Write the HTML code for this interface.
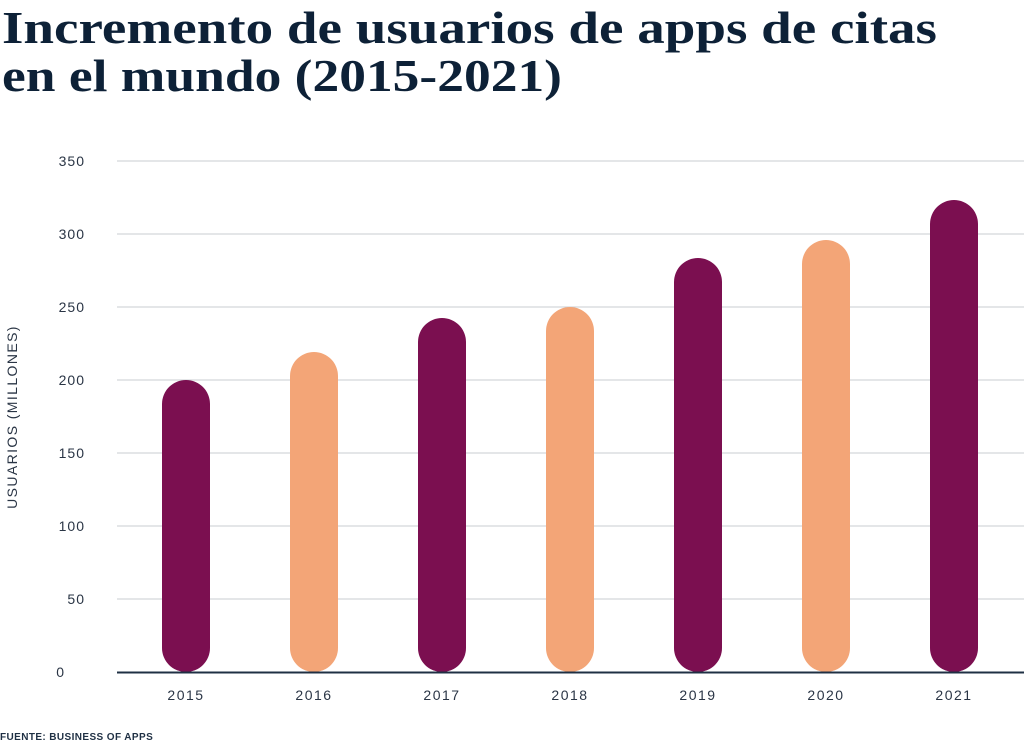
<!DOCTYPE html>
<html><head><meta charset="utf-8"><style>html,body{margin:0;padding:0;background:#fff;}</style></head>
<body>
<svg width="1024" height="744" viewBox="0 0 1024 744" xmlns="http://www.w3.org/2000/svg">
<g font-family="Liberation Serif, serif" font-weight="bold" fill="#0d2137" font-size="46">
<text x="2" y="43" textLength="935" lengthAdjust="spacingAndGlyphs">Incremento de usuarios de apps de citas</text>
<text x="2" y="91" textLength="560" lengthAdjust="spacingAndGlyphs">en el mundo (2015-2021)</text>
</g>
<g stroke="#c8ccd2" stroke-width="1">
<line x1="117" x2="1024" y1="161" y2="161"/>
<line x1="117" x2="1024" y1="234" y2="234"/>
<line x1="117" x2="1024" y1="307" y2="307"/>
<line x1="117" x2="1024" y1="380" y2="380"/>
<line x1="117" x2="1024" y1="453" y2="453"/>
<line x1="117" x2="1024" y1="526" y2="526"/>
<line x1="117" x2="1024" y1="599" y2="599"/>
</g>
<g font-family="Liberation Sans, sans-serif" font-size="14" fill="#2a3545" text-anchor="end" letter-spacing="1">
<text x="85" y="166">350</text><text x="85" y="239">300</text><text x="85" y="312">250</text>
<text x="85" y="385">200</text><text x="85" y="458">150</text><text x="85" y="531">100</text>
<text x="85" y="604">50</text><text x="65" y="677">0</text>
</g>
<text transform="translate(17,417) rotate(-90)" text-anchor="middle" font-family="Liberation Sans, sans-serif" font-size="14" letter-spacing="1.4" fill="#2a3545">USUARIOS (MILLONES)</text>
<g>
<rect x="162" y="380" width="48" height="292" rx="24" fill="#7b0f50"/>
<rect x="290" y="352" width="48" height="320" rx="24" fill="#f3a577"/>
<rect x="418" y="318" width="48" height="354" rx="24" fill="#7b0f50"/>
<rect x="546" y="307" width="48" height="365" rx="24" fill="#f3a577"/>
<rect x="674" y="258" width="48" height="414" rx="24" fill="#7b0f50"/>
<rect x="802" y="240" width="48" height="432" rx="24" fill="#f3a577"/>
<rect x="930" y="200" width="48" height="472" rx="24" fill="#7b0f50"/>
</g>
<line x1="117" x2="1024" y1="672.5" y2="672.5" stroke="#1f3044" stroke-width="2"/>
<g font-family="Liberation Sans, sans-serif" font-size="14" fill="#2a3545" text-anchor="middle" letter-spacing="1.5">
<text x="186" y="700">2015</text><text x="314" y="700">2016</text><text x="442" y="700">2017</text>
<text x="570" y="700">2018</text><text x="698" y="700">2019</text><text x="826" y="700">2020</text>
<text x="954" y="700">2021</text>
</g>
<text x="0" y="740" font-family="Liberation Sans, sans-serif" font-weight="bold" font-size="10" letter-spacing="0.4" fill="#1f3044">FUENTE: BUSINESS OF APPS</text>
</svg>
</body></html>
